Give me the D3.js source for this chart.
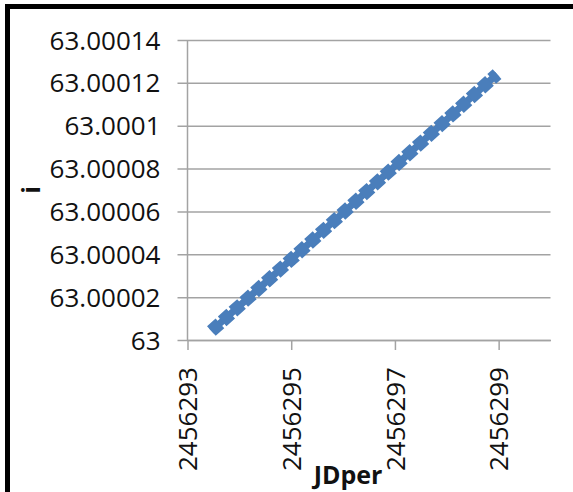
<!DOCTYPE html>
<html>
<head>
<meta charset="utf-8">
<script src="https://cdn.jsdelivr.net/npm/d3@7"></script>
<style>
  html, body { margin: 0; padding: 0; background: #fff; }
  svg { display: block; }
</style>
</head>
<body>
<svg id="chart" width="573" height="492"></svg>
<script>
// ---- data ----
const jdper = [2456293.46, 2456295.0, 2456297.0, 2456298.97];
const inclination = [63.0000042, 63.0000376, 63.0000811, 63.0001241];
const yTickValues = [63, 63.00002, 63.00004, 63.00006, 63.00008, 63.0001, 63.00012, 63.00014];
const yTickLabels = ["63", "63.00002", "63.00004", "63.00006", "63.00008", "63.0001", "63.00012", "63.00014"];
const xTickValues = [2456293, 2456295, 2456297, 2456299];
const xTickLabels = ["2456293", "2456295", "2456297", "2456299"];
const xTitle = "JDper";
const yTitle = "i";

// ---- layout ----
const svg = d3.select("#chart");
const plotLeft = 187.5, plotRight = 550.5, plotTop = 40, plotBottom = 340;
const font = "'Open Sans', 'DejaVu Sans', sans-serif";
const gridColor = "#a3a3a3";
const textColor = "#111";

const x = d3.scaleLinear().domain([2456293, 2456300]).range([plotLeft, plotRight]);
const y = d3.scaleLinear().domain([63, 63.00014]).range([plotBottom, plotTop]);

// frame (only left and top visible)
svg.append("rect")
  .attr("x", 7.5).attr("y", 6.5)
  .attr("width", 620).attr("height", 600)
  .attr("fill", "none").attr("stroke", "#000").attr("stroke-width", 5);

// horizontal gridlines + y ticks
const yAxis = d3.axisLeft(y)
  .tickValues(yTickValues)
  .tickSizeInner(-(plotRight - plotLeft))
  .tickSizeOuter(0)
  .tickFormat((d, i) => yTickLabels[i]);
const gy = svg.append("g").attr("transform", `translate(${plotLeft},0)`).call(yAxis);
gy.select(".domain").remove();
gy.selectAll(".tick line").attr("stroke", gridColor).attr("stroke-width", 1.5).attr("x1", -10);
gy.selectAll(".tick text")
  .attr("x", -27)
  .attr("dy", "0.35em")
  .attr("fill", textColor)
  .style("font-family", font)
  .style("font-size", "26px");

// y axis line
svg.append("line")
  .attr("x1", plotLeft).attr("x2", plotLeft)
  .attr("y1", plotTop).attr("y2", plotBottom)
  .attr("stroke", gridColor).attr("stroke-width", 1.5);

// x axis
const xAxis = d3.axisBottom(x)
  .tickValues(xTickValues)
  .tickSizeInner(10)
  .tickSizeOuter(0)
  .tickFormat((d, i) => xTickLabels[i]);
const gx = svg.append("g").attr("transform", `translate(0,${plotBottom})`).call(xAxis);
gx.select(".domain").attr("stroke", gridColor).attr("stroke-width", 1.5);
gx.selectAll(".tick line").attr("stroke", gridColor).attr("stroke-width", 1.5);
gx.selectAll(".tick text")
  .attr("transform", "translate(0,27) rotate(-90)")
  .attr("x", 0).attr("y", 0)
  .attr("dy", "0.35em")
  .attr("text-anchor", "end")
  .attr("fill", textColor)
  .style("font-family", font)
  .style("font-size", "26px");

// series line
const pts = jdper.map((d, i) => [d, inclination[i]]);
const lineGen = d3.line().x(d => x(d[0])).y(d => y(d[1]));
svg.append("path")
  .attr("d", lineGen(pts))
  .attr("fill", "none")
  .attr("stroke", "#4a7ebb")
  .attr("stroke-width", 7);
svg.append("path")
  .attr("d", lineGen(pts))
  .attr("fill", "none")
  .attr("stroke", "#4a7ebb")
  .attr("stroke-width", 13)
  .attr("stroke-dasharray", "11.5,3");

// axis titles
svg.append("text")
  .attr("x", 348).attr("y", 484)
  .attr("text-anchor", "middle")
  .attr("fill", textColor)
  .style("font-family", font)
  .style("font-weight", "bold")
  .style("font-size", "25px")
  .text(xTitle);

svg.append("text")
  .attr("transform", "translate(40,190) rotate(-90)")
  .attr("text-anchor", "middle")
  .attr("fill", textColor)
  .style("font-family", font)
  .style("font-weight", "bold")
  .style("font-size", "25px")
  .text(yTitle);
</script>
</body>
</html>
